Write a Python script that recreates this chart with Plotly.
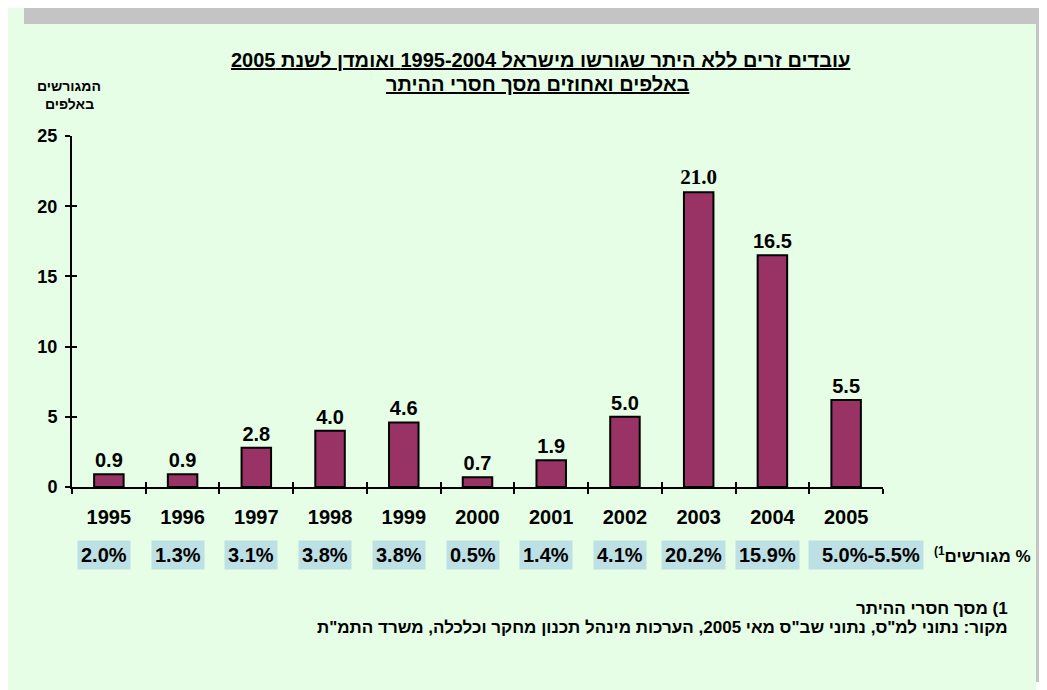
import plotly.graph_objects as go

years = ["1995", "1996", "1997", "1998", "1999", "2000", "2001", "2002", "2003", "2004", "2005"]
deported_thousands = [0.9, 0.9, 2.8, 4.0, 4.6, 0.7, 1.9, 5.0, 21.0, 16.5, 6.2]
value_labels = ["0.9", "0.9", "2.8", "4.0", "4.6", "0.7", "1.9", "5.0", "21.0", "16.5", "5.5"]
pct_of_illegal = ["2.0%", "1.3%", "3.1%", "3.8%", "3.8%", "0.5%", "1.4%", "4.1%", "20.2%", "15.9%", "5.0%-5.5%"]

RLE, PDF = "\u202B", "\u202C"


def rtl(s):
    return RLE + s + PDF


title_l1 = "עובדים זרים ללא היתר שגורשו מישראל 1995-2004 ואומדן לשנת 2005"
title_l2 = "באלפים ואחוזים מסך חסרי ההיתר"
ytitle_l1 = "המגורשים"
ytitle_l2 = "באלפים"
pct_row_label = "% מגורשים"
foot1 = "1) מסך חסרי ההיתר"
foot2 = 'מקור: נתוני למ"ס, נתוני שב"ס מאי 2005, הערכות מינהל תכנון מחקר וכלכלה, משרד התמ"ת'

FONT = "Liberation Sans, Arial, sans-serif"
SERIF = "Liberation Serif, Times New Roman, serif"
BG = "#E5FEE5"
GREY = "#C4C4C4"

OFF = 8  # page offset of the figure inside the window
W, H = 1047, 690
L, T = 64, 128
PW, PH = 811, 351
R, B = W - L - PW, H - T - PH


def px(xs):
    """window pixel x -> paper fraction"""
    return (xs - OFF - L) / PW


def py(ys):
    """window pixel y -> paper fraction"""
    return (T + PH - (ys - OFF)) / PH


fig = go.Figure()
fig.add_trace(go.Bar(
    x=years, y=deported_thousands,
    marker=dict(color="#993366", line=dict(color="black", width=2)),
    width=0.4,
    text=value_labels, textposition="outside", constraintext="none",
    textfont=dict(family=[SERIF if v == "21.0" else FONT for v in value_labels],
                  size=[21 if v == "21.0" else 20 for v in value_labels],
                  color="black", weight="bold"),
    cliponaxis=False, hoverinfo="skip", showlegend=False,
))
# helper trace so the overlaid axes (inner half of the crossing ticks) exist
fig.add_trace(go.Scatter(x=years, y=deported_thousands, xaxis="x2", yaxis="y2",
                         mode="none", hoverinfo="skip", showlegend=False))

axis_common = dict(color="black", tickcolor="black", tickwidth=2, ticklen=5,
                   showgrid=False, zeroline=False)
fig.update_layout(
    width=W, height=H,
    margin=dict(l=L, r=R, t=T, b=B),
    paper_bgcolor=BG, plot_bgcolor=BG,
    font=dict(family=FONT, color="black"),
    xaxis=dict(type="category", range=[-0.5, 10.5], tickson="boundaries",
               ticks="outside", showline=True, linewidth=2, linecolor="black",
               tickfont=dict(family=FONT, size=20, weight="bold"),
               ticklabelstandoff=11, **axis_common),
    yaxis=dict(range=[0, 25], dtick=5, ticks="outside", showline=True,
               linewidth=2, linecolor="black",
               tickfont=dict(family=FONT, size=18, weight="bold"),
               ticklabelstandoff=4, **axis_common),
    xaxis2=dict(type="category", range=[-0.5, 10.5], tickson="boundaries",
                overlaying="x", anchor="y2", ticks="inside", showline=False,
                showticklabels=False, **axis_common),
    yaxis2=dict(range=[0, 25], dtick=5, overlaying="y", anchor="x2",
                ticks="inside", showline=False, showticklabels=False, **axis_common),
)

# frame decoration (grey bands along the top and the right edge)
shapes = [
    dict(type="rect", xref="paper", yref="paper", x0=px(24), x1=px(W + OFF), y0=py(OFF), y1=py(24),
         fillcolor=GREY, line=dict(width=0), layer="below"),
    dict(type="rect", xref="paper", yref="paper", x0=px(1036), x1=px(W + OFF), y0=py(OFF), y1=py(682),
         fillcolor=GREY, line=dict(width=0), layer="below"),
    dict(type="rect", xref="paper", yref="paper", x0=px(1036), x1=px(W + OFF), y0=py(682), y1=py(H + OFF),
         fillcolor="white", line=dict(width=0), layer="below"),
]
fig.update_layout(shapes=shapes)


def text_ann(txt, xs, ys, size, xanchor="center", **kw):
    return dict(x=px(xs), xref="paper", y=py(ys), yref="paper", xanchor=xanchor,
                yanchor="middle", showarrow=False, text=txt,
                font=dict(family=FONT, size=size, weight="bold", color="black"), **kw)


ann = []
# percentage row (boxes centred on the categories of the x axis)
for i, p in enumerate(pct_of_illegal):
    last = i == len(years) - 1
    extra = dict(width=108, align="right") if last else {}
    ann.append(dict(
        x=i, xref="x", y=0, yref="paper", yanchor="middle",
        xshift=20 if last else -5, yshift=-68,
        text=p, showarrow=False, bgcolor="#BDE0E5", borderpad=3,
        font=dict(family=FONT, size=20, weight="bold", color="black"), **extra,
    ))
ann.append(text_ann(RLE + pct_row_label + "<sup>1)</sup>" + PDF, 1033, 555, 17, xanchor="right"))
# titles
ann.append(text_ann("<u>" + rtl(title_l1) + "</u>", 540, 60, 20))
ann.append(text_ann("<u>" + rtl(title_l2) + "</u>", 538, 84, 20))
# y axis title
ann.append(text_ann(rtl(ytitle_l1), 69, 86, 14))
ann.append(text_ann(rtl(ytitle_l2), 69, 104, 14))
# footnotes
ann.append(text_ann(rtl(foot1), 1010, 608, 17, xanchor="right"))
ann.append(text_ann(rtl(foot2), 1010, 627, 17, xanchor="right"))
fig.update_layout(annotations=ann)

fig.write_html("out.html")
